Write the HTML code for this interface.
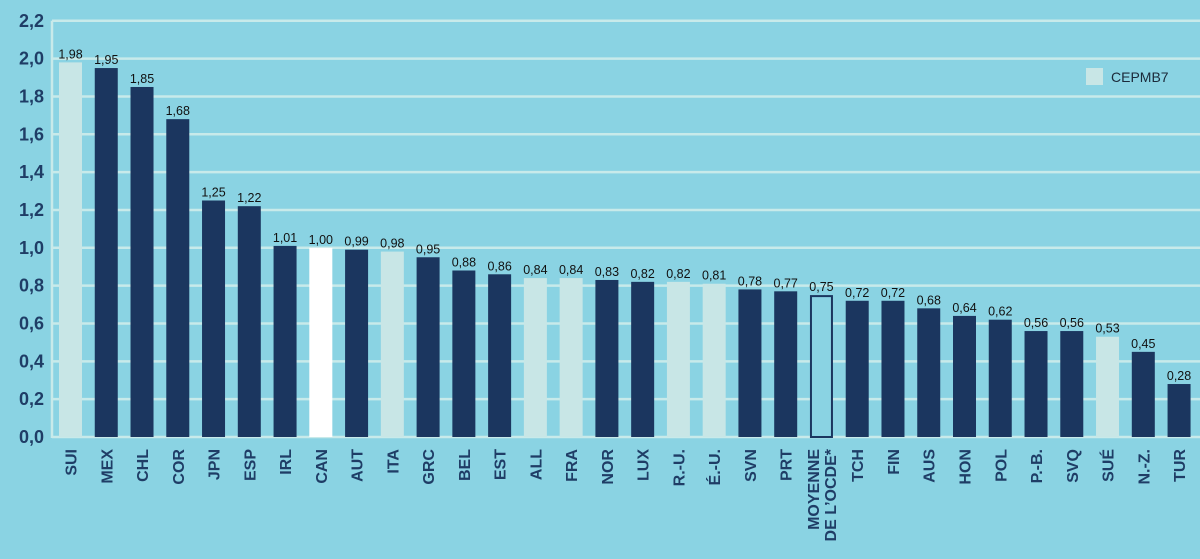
<!DOCTYPE html>
<html><head><meta charset="utf-8"><style>
html,body{margin:0;padding:0;background:#8ad3e3;}
svg{display:block;font-family:"Liberation Sans",sans-serif;}
</style></head><body>
<svg id="chart" width="1200" height="559">
<rect width="1200" height="559" fill="#8ad3e3"/>
<g id="grid"></g><g id="bars"></g><g id="labels"></g>
<g>
<rect x="1086" y="68" width="17" height="17" fill="#c8e6e6"/>
<text x="1111" y="82" font-size="14" fill="#1b2a3a">CEPMB7</text>
</g>
</svg>
<script>
const categories=["SUI","MEX","CHL","COR","JPN","ESP","IRL","CAN","AUT","ITA","GRC","BEL","EST","ALL","FRA","NOR","LUX","R.-U.","É.-U.","SVN","PRT","MOYENNE|DE L’OCDE*","TCH","FIN","AUS","HON","POL","P.-B.","SVQ","SUÉ","N.-Z.","TUR"];
const values=[1.98,1.95,1.85,1.68,1.25,1.22,1.01,1.00,0.99,0.98,0.95,0.88,0.86,0.84,0.84,0.83,0.82,0.82,0.81,0.78,0.77,0.75,0.72,0.72,0.68,0.64,0.62,0.56,0.56,0.53,0.45,0.28];
const kinds=["l","d","d","d","d","d","d","w","d","l","d","d","d","l","l","d","d","l","l","d","d","o","d","d","d","d","d","d","d","l","d","d"];
const yTicks=[0,0.2,0.4,0.6,0.8,1.0,1.2,1.4,1.6,1.8,2.0,2.2];
const NS="http://www.w3.org/2000/svg";
const y=v=>437-v*189.2;
const x=i=>59+i*35.76;
const bw=23;
function mk(t,a,p){const e=document.createElementNS(NS,t);for(const k in a)e.setAttribute(k,a[k]);p.appendChild(e);return e;}
const grid=document.getElementById('grid'),bars=document.getElementById('bars'),labels=document.getElementById('labels');
yTicks.forEach(v=>{
 const l=mk('line',{x1:52,x2:1200,y1:y(v),y2:y(v),stroke:'#c8eaea','stroke-width':2.5},grid);
 
 
 const t=mk('text',{x:44,y:y(v)+6,'text-anchor':'end','font-size':18,'font-weight':'bold',fill:'#1f3d66'},grid);
 t.textContent=v.toFixed(1).replace('.',',');
 
 
});
const ax=mk('line',{x1:52,x2:52,y1:y(2.2),y2:y(0)+1,stroke:'#c8eaea','stroke-width':2.5},grid);


const fills={l:'#c8e6e6',d:'#1b365f',w:'#ffffff',o:'#8ad3e3'};
values.forEach((v,i)=>{
 const a={x:x(i),y:y(v),width:bw,height:y(0)-y(v),fill:fills[kinds[i]]};
 if(kinds[i]==='o'){a.stroke='#1b365f';a['stroke-width']=2;a.x+=1;a.width-=2;a.y+=1;a.height-=1;}
 const r=mk('rect',a,bars);
 
 
 const t=mk('text',{x:x(i)+bw/2,y:y(v)-4,'text-anchor':'middle','font-size':12.5,fill:'#111'},labels);
 t.textContent=v.toFixed(2).replace('.',',');
 
 
 const parts=categories[i].split('|');
 parts.forEach((p,j)=>{
  const cx=x(i)+bw/2+6+(j-(parts.length-1)/2)*17;
  const c=mk('text',{x:0,y:0,'text-anchor':'end','font-size':16,'font-weight':'bold',fill:'#1f3d66',transform:`translate(${cx},449) rotate(-90)`},labels);
  c.textContent=p;
  
  
 });
});
</script>
</body></html>
